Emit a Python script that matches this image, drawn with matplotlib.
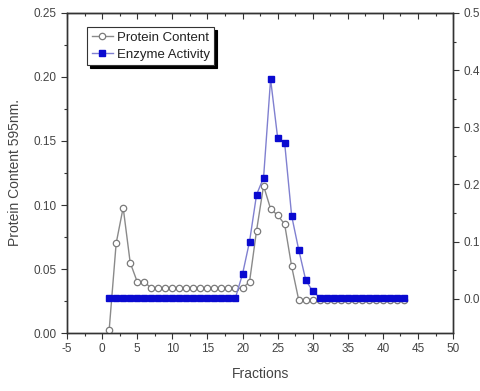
import matplotlib.pyplot as plt

plt.rcParams['font.family'] = ['Liberation Sans', 'DejaVu Sans']
plt.rcParams['axes.unicode_minus'] = False

# Fraction numbers
fractions = list(range(1, 44))

# Protein content (A595), left axis
protein = [0.002, 0.070, 0.098, 0.055, 0.040, 0.040,
           0.035, 0.035, 0.035, 0.035, 0.035, 0.035, 0.035, 0.035,
           0.035, 0.035, 0.035, 0.035, 0.035, 0.035,
           0.040, 0.080, 0.115, 0.097, 0.092, 0.085, 0.052,
           0.026, 0.026, 0.026, 0.026, 0.026, 0.026, 0.026, 0.026,
           0.026, 0.026, 0.026, 0.026, 0.026, 0.026, 0.026, 0.026]

# Enzyme activity, right axis
enzyme = [0.002] * 19 + [0.043, 0.100, 0.182, 0.212, 0.384, 0.282, 0.273,
                         0.145, 0.086, 0.033, 0.013] + [0.002] * 13

x_ticks = list(range(-5, 51, 5))
left_ticks = [0.00, 0.05, 0.10, 0.15, 0.20, 0.25]
right_ticks = [0.0, 0.1, 0.2, 0.3, 0.4, 0.5]

txt = '#444444'
spine = '#333333'

fig = plt.figure(figsize=(4.8, 3.91), dpi=100)
ax = fig.add_axes([0.1396, 0.1483, 0.8044, 0.8185])
ax2 = ax.twinx()

l1, = ax.plot(fractions, protein, '-o', color='#8a8a8a', lw=1.0,
              markersize=4.6, markerfacecolor='white', markeredgecolor='#7a7a7a',
              markeredgewidth=0.9, label='Protein Content', zorder=3)
l2, = ax2.plot(fractions, enzyme, '-s', color='#8080d0', lw=1.0,
               markersize=4.0, markerfacecolor='#0a0ad0', markeredgecolor='#0a0ad0',
               label='Enzyme Activity', zorder=4)

ax.set_xlim(-5, 50)
ax.set_ylim(0, 0.25)
ax2.set_ylim(-0.06, 0.5)

ax.set_xticks(x_ticks)
ax.set_xticks([v + 2.5 for v in x_ticks[:-1]], minor=True)
ax.set_yticks(left_ticks)
ax.set_yticklabels([f'{v:.2f}' for v in left_ticks])
ax.set_yticks([v + 0.025 for v in left_ticks[:-1]], minor=True)
ax2.set_yticks(right_ticks)
ax2.set_yticklabels([f'{v:.1f}' for v in right_ticks])
ax2.set_yticks([v + 0.05 for v in right_ticks[:-1]], minor=True)

for a in (ax, ax2):
    for s in a.spines.values():
        s.set_color(spine)
        s.set_linewidth(1.0)

ax.tick_params(axis='both', which='major', direction='out', length=4,
               width=0.8, colors=spine, labelcolor=txt, labelsize=8.5)
ax.tick_params(axis='both', which='minor', direction='out', length=2.5,
               width=0.8, colors=spine)
ax2.tick_params(axis='y', which='major', direction='out', length=4,
                width=0.8, colors=spine, labelcolor=txt, labelsize=8.5)
ax2.tick_params(axis='y', which='minor', direction='out', length=2.5,
                width=0.8, colors=spine)

# top axis: inward ticks, no labels
top = ax.secondary_xaxis('top')
top.set_xticks(x_ticks)
top.set_xticks([v + 2.5 for v in x_ticks[:-1]], minor=True)
top.tick_params(which='major', direction='in', length=4, width=0.8,
                colors=spine, labeltop=False)
top.tick_params(which='minor', direction='in', length=2.5, width=0.8,
                colors=spine)
top.spines['top'].set_color(spine)

ax.set_xlabel('Fractions', fontsize=10, color=txt, labelpad=8)
ax.set_ylabel('Protein Content 595nm.', fontsize=10, color=txt, labelpad=8)

leg = ax2.legend(handles=[l1, l2], loc='upper left', bbox_to_anchor=(0.045, 0.965),
                 fancybox=False, shadow={'color': 'black', 'alpha': 1.0},
                 edgecolor='#333333', fontsize=9.5, handlelength=1.6,
                 handletextpad=0.3, borderpad=0.35, labelspacing=0.35,
                 borderaxespad=0.2)
leg.get_frame().set_linewidth(0.8)
for t in leg.get_texts():
    t.set_color('#222222')

fig.savefig('out.png', dpi=100)
